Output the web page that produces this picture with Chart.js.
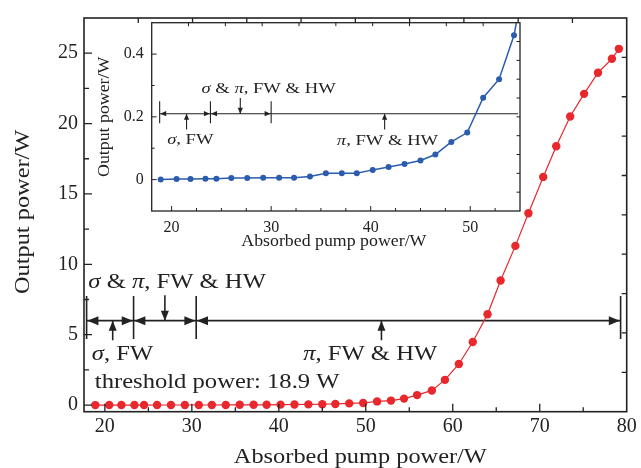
<!DOCTYPE html>
<html>
<head>
<meta charset="utf-8">
<script src="https://cdn.jsdelivr.net/npm/chart.js@4"></script>
<style>
  html, body { margin: 0; padding: 0; background: #fff; }
  #wrap { position: relative; width: 641px; height: 468px; }
  #wrap canvas { position: absolute; left: 0; top: 0; }
</style>
</head>
<body>
<div id="wrap">
  <canvas id="main" width="641" height="468"></canvas>
  <canvas id="inset" width="641" height="468"></canvas>
</div>
<script>
// ---------------- data ----------------
const absorbedPower = [18.9, 20.5, 21.9, 23.4, 24.5, 26.0, 27.6, 29.2, 30.8, 32.3,
  33.9, 35.5, 37.1, 38.6, 40.2, 41.8, 43.4, 45.0, 46.5, 48.1,
  49.7, 51.3, 52.9, 54.4, 55.9, 57.6, 59.1, 60.7, 62.3, 64.0,
  65.5, 67.2, 68.7, 70.4, 71.9, 73.5, 75.1, 76.7, 78.3, 79.1];
const outputPower = [0, 0.002, 0.002, 0.003, 0.003, 0.005, 0.005, 0.006, 0.006, 0.006,
  0.010, 0.020, 0.020, 0.020, 0.031, 0.040, 0.050, 0.061, 0.080, 0.120,
  0.150, 0.261, 0.320, 0.460, 0.71, 1.04, 1.79, 2.92, 4.48, 6.45,
  8.85, 11.31, 13.63, 16.21, 18.39, 20.50, 22.11, 23.61, 24.60, 25.31];
const insetPointCount = 25;   // points drawn in the inset (last one runs off the top)

const mainXTicks = [20, 30, 40, 50, 60, 70, 80];
const mainYTicks = [0, 5, 10, 15, 20, 25];
const insetXTicks = [20, 30, 40, 50];
const insetYTicks = [0, 0.2, 0.4];

const xTitle = 'Absorbed pump power/W';
const yTitle = 'Output power/W';

// regime markers (data units)
const mainRegionBounds = [17.9, 23.3, 30.5, 79.3];
const mainRegionLevel = 6.0;
const mainBarSpan = [4.7, 7.75];
const mainPointers = [[20.9, 4.6], [26.9, 7.8], [51.8, 4.6]];
const mainLabels = [
  ["*σ* & *π*, FW & HW", 18.1, 8.7],
  ["*σ*, FW", 18.5, 3.6],
  ["*π*, FW & HW", 42.8, 3.6],
  ["threshold power: 18.9 W", 18.85, 1.6]
];
const insetRegionBounds = [18.8, 23.9, 30.0];
const insetRegionEnd = 54.8;
const insetRegionLevel = 0.21;
const insetBarSpan = [0.18, 0.25];
const insetPointers = [[21.5, 0.16], [26.9, 0.26], [41.4, 0.16]];
const insetLabels = [
  ["*σ* & *π*, FW & HW", 23.0, 0.289],
  ["*σ*, FW", 19.55, 0.127],
  ["*π*, FW & HW", 36.6, 0.122]
];

// ---------------- helpers ----------------
const serif = "'Liberation Serif', 'Times New Roman', serif";
const ink = '#222';
const isMult = (v, m) => Math.abs(v / m - Math.round(v / m)) < 1e-6;
const isIn = (arr, v) => arr.some(t => Math.abs(t - v) < 1e-6);

function stepTicks(step) {
  return axis => {
    const out = [];
    const k0 = Math.ceil(axis.min / step - 1e-9), k1 = Math.floor(axis.max / step + 1e-9);
    for (let k = k0; k <= k1; k++) out.push({ value: Math.round(k * step * 1e6) / 1e6 });
    axis.ticks = out;
  };
}

function richWidth(ctx, str, size) {
  let w = 0;
  str.split('*').forEach((p, i) => {
    if (!p) return;
    ctx.font = (i % 2 ? 'italic ' : '') + size + 'px ' + serif;
    w += ctx.measureText(p).width;
  });
  return w;
}
// draws text at (x,y); align 'left' or 'center'; stretched horizontally by sx; optional rotation
function drawText(ctx, str, x, y, size, sx, align, rot) {
  ctx.save();
  ctx.translate(x, y);
  if (rot) ctx.rotate(rot);
  ctx.scale(sx, 1);
  let cx = align === 'center' ? -richWidth(ctx, str, size) / 2 : 0;
  str.split('*').forEach((p, i) => {
    if (!p) return;
    ctx.font = (i % 2 ? 'italic ' : '') + size + 'px ' + serif;
    ctx.fillText(p, cx, 0);
    cx += ctx.measureText(p).width;
  });
  ctx.restore();
}

function head(ctx, tx, ty, dx, dy, len, hw) {
  ctx.beginPath();
  ctx.moveTo(tx, ty);
  ctx.lineTo(tx - dx * len - dy * hw, ty - dy * len - dx * hw);
  ctx.lineTo(tx - dx * len + dy * hw, ty - dy * len + dx * hw);
  ctx.closePath();
  ctx.fill();
}

function regionPlugin(id, cfg) {
  return {
    id,
    beforeDatasetsDraw(chart) {
      const ctx = chart.ctx;
      const X = v => chart.scales.x.getPixelForValue(v);
      const Y = v => chart.scales.y.getPixelForValue(v);
      ctx.save();
      ctx.strokeStyle = ink; ctx.fillStyle = ink; ctx.lineWidth = cfg.lw;
      const yl = Y(cfg.level);
      const b = cfg.bounds;
      ctx.beginPath();
      ctx.moveTo(X(b[0]), yl); ctx.lineTo(X(cfg.end), yl);
      b.forEach(v => { ctx.moveTo(X(v), Y(cfg.bar[0])); ctx.lineTo(X(v), Y(cfg.bar[1])); });
      cfg.pointers.forEach(([px, tail]) => { ctx.moveTo(X(px), Y(tail)); ctx.lineTo(X(px), yl); });
      ctx.stroke();
      for (let i = 0; i < b.length - 1; i++) {
        head(ctx, X(b[i]) + cfg.lw / 2, yl, -1, 0, cfg.hl, cfg.hw);
        head(ctx, X(b[i + 1]) - cfg.lw / 2, yl, 1, 0, cfg.hl, cfg.hw);
      }
      cfg.pointers.forEach(([px, tail]) => {
        const dir = tail < cfg.level ? -1 : 1;
        head(ctx, X(px), yl, 0, dir, cfg.phl, cfg.phw);
      });
      ctx.textBaseline = 'middle';
      cfg.labels.forEach(([t, lx, ly]) => drawText(ctx, t, X(lx), Y(ly), cfg.fs, cfg.sx, 'left'));
      ctx.restore();
    }
  };
}

function framePlugin(id, cfg) {
  return {
    id,
    afterDraw(chart) {
      const ctx = chart.ctx, a = chart.chartArea;
      ctx.save();
      ctx.strokeStyle = ink;
      ctx.lineWidth = cfg.tickWidth;
      ctx.beginPath();
      Object.entries(cfg.axes).forEach(([key, s]) => {
        const sc = chart.scales[key];
        sc.ticks.forEach(t => {
          const v = t.value;
          if (!isMult(v, s.minor)) return;
          const len = (s.major && isMult(v, s.major)) ? s.majorLen : s.minorLen;
          const p = sc.getPixelForValue(v);
          if (sc.isHorizontal()) {
            if (p <= a.left + 1 || p >= a.right - 1) return;
            if (sc.position === 'bottom') { ctx.moveTo(p, a.bottom); ctx.lineTo(p, a.bottom - len); }
            else { ctx.moveTo(p, a.top); ctx.lineTo(p, a.top + len); }
          } else {
            if (p <= a.top + 1 || p >= a.bottom - 1) return;
            if (sc.position === 'left') { ctx.moveTo(a.left, p); ctx.lineTo(a.left + len, p); }
            else { ctx.moveTo(a.right, p); ctx.lineTo(a.right - len, p); }
          }
        });
      });
      ctx.stroke();
      ctx.lineWidth = cfg.frameWidth;
      ctx.strokeRect(a.left, a.top, a.right - a.left, a.bottom - a.top);
      // axis titles
      ctx.fillStyle = ink;
      ctx.textBaseline = 'alphabetic';
      const t = cfg.titles;
      drawText(ctx, xTitle, (a.left + a.right) / 2 + t.xdx, a.bottom + t.xdy, t.size, t.sx, 'center');
      drawText(ctx, yTitle, a.left + t.ydx, (a.top + a.bottom) / 2 + t.ydy, t.size, t.sx, 'center', -Math.PI / 2);
      ctx.restore();
    }
  };
}

function hiddenAxis(position) {
  return {
    type: 'linear', position, min: 0, max: 10, display: true,
    afterFit: s => { if (position === 'top') s.height = 0; else s.width = 0; },
    afterBuildTicks: stepTicks(1),
    grid: { display: false, drawTicks: false }, border: { display: false },
    ticks: { display: false }, title: { display: false }
  };
}

// ---------------- main chart ----------------
new Chart(document.getElementById('main'), {
  type: 'line',
  data: {
    datasets: [{
      data: absorbedPower.map((x, i) => ({ x, y: outputPower[i] })),
      borderColor: '#e8282c', backgroundColor: '#e8282c',
      borderWidth: 1.2, pointRadius: 4.2, pointHoverRadius: 4.2, pointBorderWidth: 0, tension: 0
    }]
  },
  options: {
    responsive: false, animation: false, devicePixelRatio: 1, events: [],
    layout: { padding: { left: 0, top: 14, right: 14.3, bottom: 0 } },
    plugins: { legend: { display: false }, tooltip: { enabled: false } },
    scales: {
      x: {
        type: 'linear', position: 'bottom', min: 17.6, max: 80,
        afterFit: s => { s.height = 56.3; },
        afterBuildTicks: stepTicks(5),
        grid: { display: false, drawTicks: false }, border: { display: false },
        ticks: { autoSkip: false, maxRotation: 0, padding: 3, color: ink,
                 font: { family: serif, size: 20 },
                 callback: v => isIn(mainXTicks, v) ? String(Math.round(v)) : '' },
        title: { display: false }
      },
      y: {
        type: 'linear', position: 'left', min: -0.47, max: 27.5,
        afterFit: s => { s.width = 84; },
        afterBuildTicks: stepTicks(2.5),
        grid: { display: false, drawTicks: false }, border: { display: false },
        ticks: { autoSkip: false, padding: 6, color: ink,
                 font: { family: serif, size: 20 },
                 callback: v => isIn(mainYTicks, v) ? String(Math.round(v)) : '' },
        title: { display: false }
      },
      x2: hiddenAxis('top'),
      y2: hiddenAxis('right')
    }
  },
  plugins: [
    regionPlugin('mainRegions', { bounds: mainRegionBounds, end: mainRegionBounds[mainRegionBounds.length - 1],
      level: mainRegionLevel, bar: mainBarSpan, pointers: mainPointers, labels: mainLabels,
      lw: 1.6, hl: 11, hw: 4.5, phl: 10, phw: 4, fs: 20.5, sx: 1.2 }),
    framePlugin('mainFrame', { tickWidth: 1.3, frameWidth: 1.6,
      titles: { size: 21, sx: 1.16, xdx: 5, xdy: 51.5, ydx: -55.5, ydy: -3 },
      axes: {
        x: { minor: 5, major: 10, minorLen: 4.5, majorLen: 8 },
        y: { minor: 2.5, major: 5, minorLen: 5, majorLen: 8 },
        x2: { minor: 1, minorLen: 5 },
        y2: { minor: 1, minorLen: 5 }
      } })
  ]
});

// ---------------- inset chart ----------------
new Chart(document.getElementById('inset'), {
  type: 'line',
  data: {
    datasets: [{
      data: absorbedPower.slice(0, insetPointCount).map((x, i) => ({ x, y: outputPower[i] })),
      borderColor: '#2b5cae', backgroundColor: '#2b5cae',
      borderWidth: 1.5, pointRadius: 3, pointHoverRadius: 3, pointBorderWidth: 0, tension: 0
    }]
  },
  options: {
    responsive: false, animation: false, devicePixelRatio: 1, events: [],
    layout: { padding: { left: 90, top: 22.7, right: 121, bottom: 212 } },
    plugins: { legend: { display: false }, tooltip: { enabled: false } },
    scales: {
      x: {
        type: 'linear', position: 'bottom', min: 18, max: 55,
        afterFit: s => { s.height = 45; },
        afterBuildTicks: stepTicks(2.5),
        grid: { display: false, drawTicks: false }, border: { display: false },
        ticks: { autoSkip: false, maxRotation: 0, padding: 7, color: ink,
                 font: { family: serif, size: 16 },
                 callback: v => isIn(insetXTicks, v) ? String(Math.round(v)) : '' },
        title: { display: false }
      },
      y: {
        type: 'linear', position: 'left', min: -0.1, max: 0.5,
        afterFit: s => { s.width = 61.7; },
        afterBuildTicks: stepTicks(0.1),
        grid: { display: false, drawTicks: false }, border: { display: false },
        ticks: { autoSkip: false, padding: 8, color: ink,
                 font: { family: serif, size: 16 },
                 callback: v => isIn(insetYTicks, v) ? (Math.abs(v) < 1e-9 ? '0' : v.toFixed(1)) : '' },
        title: { display: false }
      },
      x2: hiddenAxis('top'),
      y2: hiddenAxis('right')
    }
  },
  plugins: [
    regionPlugin('insetRegions', { bounds: insetRegionBounds, end: insetRegionEnd,
      level: insetRegionLevel, bar: insetBarSpan, pointers: insetPointers, labels: insetLabels,
      lw: 1.1, hl: 6, hw: 2.6, phl: 6, phw: 2.6, fs: 15.5, sx: 1.2 }),
    framePlugin('insetFrame', { tickWidth: 1, frameWidth: 1.3,
      titles: { size: 16.5, sx: 1.08, xdx: -2, xdy: 35, ydx: -43, ydy: 0 },
      axes: {
        x: { minor: 2.5, major: 10, minorLen: 3, majorLen: 5 },
        y: { minor: 0.1, major: 0.2, minorLen: 3, majorLen: 5 },
        x2: { minor: 1, minorLen: 3.5 },
        y2: { minor: 1, minorLen: 3.5 }
      } })
  ]
});
</script>
</body>
</html>
